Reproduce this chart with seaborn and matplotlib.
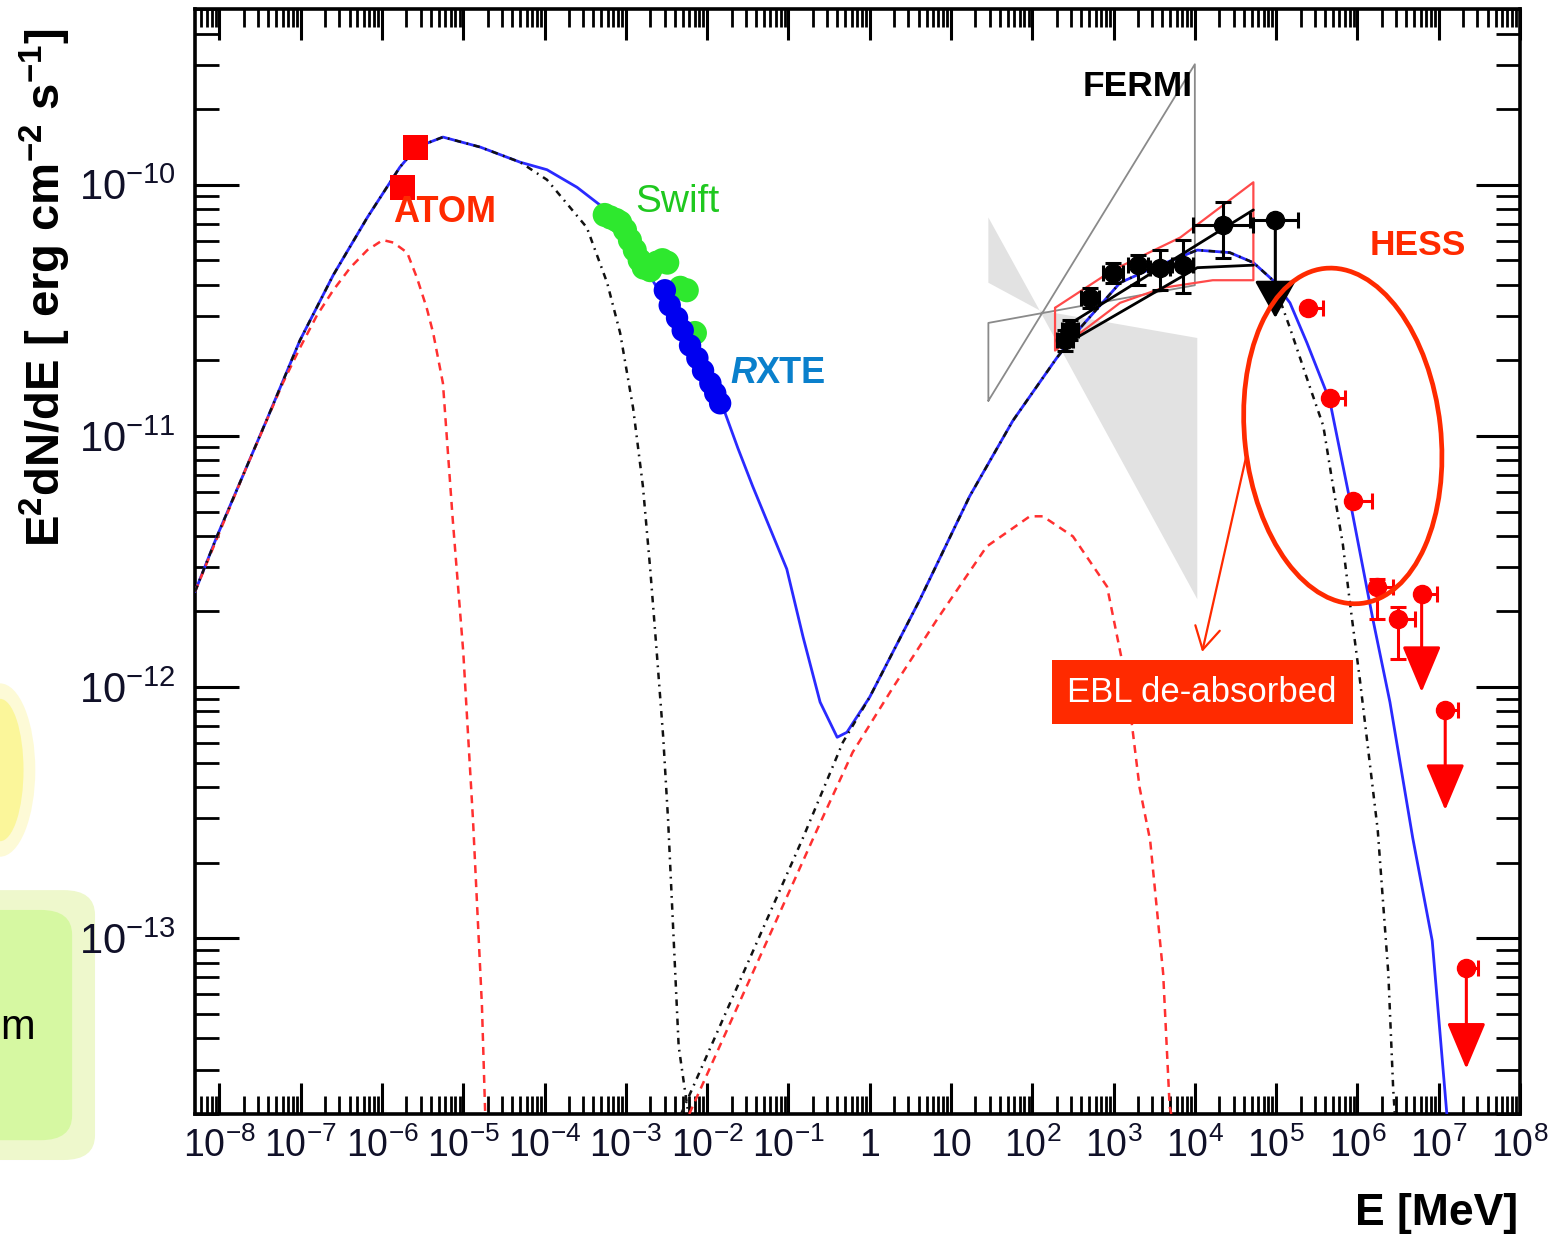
import numpy as np
import matplotlib
matplotlib.use("Agg")
import matplotlib.pyplot as plt
import seaborn as sns
from matplotlib.patches import Ellipse, FancyBboxPatch
from matplotlib.transforms import ScaledTranslation
from matplotlib.ticker import LogLocator, NullFormatter, FixedLocator, FixedFormatter

# all values are log10(E / MeV) and log10(E^2 dN/dE / erg cm^-2 s^-1)
x_lim_log = [-8.3, 8.0]
y_lim_log = [-13.7, -9.3]

# total model (blue)
total_logE = [-8.30, -8.03, -7.41, -7.01, -6.60, -6.18, -5.78, -5.57, -5.25, -4.79, -4.30, -3.97, -3.60,
              -3.28, -2.67, -2.21, -1.80, -1.62, -1.44, -1.02, -0.82, -0.61, -0.40, -0.28, 0.00, 0.62, 1.23,
              1.76, 2.30, 2.59, 3.08, 3.49, 4.03, 4.43, 4.72, 4.96, 5.17, 5.38, 5.66, 5.91,
              6.19, 6.40, 6.68, 6.92, 7.10]
total_logF = [-11.62, -11.40, -10.93, -10.62, -10.36, -10.13, -9.93, -9.85, -9.81, -9.85, -9.91, -9.94, -10.01,
              -10.09, -10.38, -10.64, -10.89, -11.05, -11.20, -11.53, -11.80, -12.06, -12.20, -12.18, -12.04, -11.65, -11.24,
              -10.94, -10.69, -10.57, -10.39, -10.33, -10.26, -10.27, -10.31, -10.38, -10.47, -10.63, -10.86, -11.26,
              -11.73, -12.06, -12.60, -13.01, -13.70]

# component 1 synchrotron / inverse Compton (black dash-dot)
bsync_logE = [-8.30, -8.03, -7.41, -7.01, -6.60, -6.18, -5.78, -5.57, -5.25, -4.79, -4.30, -3.97,
              -3.48, -3.23, -3.07, -2.91, -2.79, -2.70, -2.62, -2.54, -2.48, -2.35, -2.28, -2.23]
bsync_logF = [-11.62, -11.40, -10.93, -10.62, -10.36, -10.13, -9.93, -9.85, -9.81, -9.85, -9.91, -9.98,
              -10.17, -10.39, -10.59, -10.89, -11.20, -11.53, -11.86, -12.20, -12.53, -13.43, -13.59, -13.70]
bic_logE = [-2.32, -0.82, -0.33, 0.00, 0.62, 1.23, 1.76, 2.30, 2.59, 3.08, 3.49, 4.03, 4.43,
            4.72, 4.96, 5.17, 5.42, 5.58, 5.70, 5.82, 5.91, 6.03, 6.25, 6.38, 6.44, 6.46]
bic_logF = [-13.70, -12.60, -12.22, -12.04, -11.65, -11.24, -10.94, -10.69, -10.57, -10.39, -10.33, -10.26, -10.27,
            -10.31, -10.38, -10.57, -10.81, -10.96, -11.20, -11.43, -11.67, -11.97, -12.57, -13.14, -13.60, -13.70]

# component 2 synchrotron / inverse Compton (red dashed)
rsync_logE = [-8.30, -7.70, -7.22, -7.01, -6.80, -6.60, -6.39, -6.18, -5.99, -5.86, -5.69, -5.57,
              -5.45, -5.37, -5.25, -5.13, -5.00, -4.88, -4.77, -4.73]
rsync_logF = [-11.62, -11.15, -10.79, -10.65, -10.52, -10.42, -10.33, -10.26, -10.22, -10.23, -10.27, -10.37,
              -10.49, -10.59, -10.79, -11.33, -11.86, -12.53, -13.27, -13.70]
ric_logE = [-2.22, -0.65, -0.21, 0.29, 0.83, 1.44, 1.97, 2.13, 2.50, 2.92, 3.17, 3.32, 3.45, 3.61, 3.69, 3.71]
ric_logF = [-13.70, -12.57, -12.26, -12.00, -11.73, -11.44, -11.32, -11.32, -11.40, -11.60, -12.00, -12.40,
            -12.61, -13.14, -13.67, -13.70]

# data
atom_logE = [-5.59, -5.75]
atom_logF = [-9.85, -10.01]

swift_logE = [-3.26, -3.19, -3.12, -3.07, -3.01, -2.95, -2.89, -2.83, -2.78, -2.70, -2.62, -2.55,
              -2.49, -2.33, -2.25, -2.15]
swift_logF = [-10.12, -10.13, -10.14, -10.15, -10.18, -10.22, -10.26, -10.30, -10.33, -10.34, -10.31, -10.30,
              -10.31, -10.41, -10.42, -10.59]

rxte_logE = [-2.52, -2.46, -2.37, -2.30, -2.21, -2.12, -2.05, -1.96, -1.90, -1.84]
rxte_logF = [-10.42, -10.48, -10.53, -10.58, -10.64, -10.69, -10.74, -10.79, -10.83, -10.87]

fermi_logE = [2.40, 2.46, 2.71, 2.99, 3.30, 3.57, 3.85, 4.35]
fermi_logF = [-10.62, -10.58, -10.45, -10.35, -10.32, -10.33, -10.32, -10.16]
fermi_logE_lo = [2.30, 2.36, 2.60, 2.87, 3.18, 3.45, 3.72, 3.98]
fermi_logE_hi = [2.50, 2.56, 2.82, 3.11, 3.42, 3.69, 3.98, 4.72]
fermi_logF_lo = [-10.66, -10.62, -10.49, -10.39, -10.40, -10.42, -10.43, -10.29]
fermi_logF_hi = [-10.58, -10.54, -10.41, -10.31, -10.28, -10.26, -10.22, -10.07]
fermi_last = [4.99, -10.14]          # logE, logF
fermi_last_logE_range = [4.68, 5.27]
fermi_last_tip_logF = -10.53

# FERMI butterflies
lat_red_logE = [2.28, 2.99, 3.82, 4.72, 4.72, 4.22, 3.61, 3.08, 2.59, 2.28, 2.28]
lat_red_logF = [-10.49, -10.34, -10.21, -9.99, -10.38, -10.38, -10.41, -10.47, -10.59, -10.66, -10.49]
lat_black_top_logE = [2.38, 4.72]
lat_black_top_logF = [-10.57, -10.10]
lat_black_bot_logE = [2.38, 4.03, 4.72]
lat_black_bot_logF = [-10.64, -10.33, -10.32]
gray_fill_logE = [1.46, 2.09, 4.03, 4.03, 2.09, 1.46]
gray_fill_logF = [-10.13, -10.50, -10.61, -11.65, -10.50, -10.39]
gray_line_logE = [1.46, 4.00, 4.00, 1.46, 1.46]
gray_line_logF = [-10.86, -9.52, -10.40, -10.55, -10.86]

# HESS
hess_logE = [5.39, 5.66, 5.95, 6.24, 6.50]
hess_logF = [-10.49, -10.85, -11.26, -11.60, -11.73]
hess_logE_hi = [5.58, 5.85, 6.18, 6.44, 6.71]
hess_logF_lo = [-10.49, -10.85, -11.26, -11.73, -11.89]
hess_logF_hi = [-10.49, -10.85, -11.26, -11.57, -11.68]
hess_ul_logE = [6.79, 7.08, 7.34]
hess_ul_logF = [-11.63, -12.09, -13.12]
hess_ul_logE_hi = [6.98, 7.24, 7.48]
hess_ul_tip_logF = [-12.02, -12.49, -13.52]

x_tick_exps = list(range(-8, 9))
x_tick_labels = [r'$10^{%d}$' % e if e not in (0, 1) else ('1' if e == 0 else '10') for e in x_tick_exps]
y_tick_exps = [-13, -12, -11, -10]
y_tick_labels = [r'$10^{%d}$' % e for e in y_tick_exps]

RED = '#ff2a00'


def p10(v):
    return 10.0 ** np.asarray(v, dtype=float)


sns.set_theme(style="white")
plt.rcParams['font.family'] = ['Liberation Sans', 'DejaVu Sans']
plt.rcParams['mathtext.fontset'] = 'custom'
plt.rcParams['mathtext.rm'] = 'Liberation Sans'
plt.rcParams['mathtext.bf'] = 'Liberation Sans:bold'
plt.rcParams['mathtext.it'] = 'Liberation Sans:italic'
plt.rcParams['text.color'] = 'black'

fig = plt.figure(figsize=(15.68, 12.38), dpi=100)
fig.patch.set_facecolor('white')

# bits of the slide showing at the left edge, behind everything
deco = [Ellipse((0.0, 0.378), 0.045, 0.14, fc='#fdfad6'),
        Ellipse((0.0, 0.378), 0.03, 0.115, fc='#fbf69a'),
        FancyBboxPatch((-0.03, 0.063), 0.0906, 0.218, boxstyle='round,pad=0,rounding_size=0.02', fc='#eef8cc'),
        FancyBboxPatch((-0.03, 0.079), 0.076, 0.186, boxstyle='round,pad=0,rounding_size=0.02', fc='#d6f8a2')]
for p in deco:
    p.set_transform(fig.transFigure)
    p.set_edgecolor('none')
    p.set_zorder(-5)
    fig.add_artist(p)
fig.text(0.0115, 0.1696, 'm', fontsize=30, ha='center', va='center', zorder=-4)

ax = fig.add_axes([195 / 1568, 124 / 1238, 1325 / 1568, 1105 / 1238])
ax.set_facecolor('white')
ax.set_xscale('log')
ax.set_yscale('log')

# FERMI butterflies
ax.fill(p10(gray_fill_logE), p10(gray_fill_logF), color='#e2e2e2', lw=0, zorder=1)
ax.plot(p10(gray_line_logE), p10(gray_line_logF), color='#8a8a8a', lw=1.3, zorder=2)

# model curves
sns.lineplot(x=p10(total_logE), y=p10(total_logF), color='#2a2aff', lw=2.0, sort=False, estimator=None, ax=ax, zorder=3)
for xs, ys in [(rsync_logE, rsync_logF), (ric_logE, ric_logF)]:
    sns.lineplot(x=p10(xs), y=p10(ys), color='#ff3030', lw=1.8, linestyle=(0, (3.2, 2.4)),
                 sort=False, estimator=None, ax=ax, zorder=4)
for xs, ys in [(bsync_logE, bsync_logF), (bic_logE, bic_logF)]:
    sns.lineplot(x=p10(xs), y=p10(ys), color='#111111', lw=1.8, linestyle=(0, (2.6, 2.2, 0.7, 2.2)),
                 sort=False, estimator=None, ax=ax, zorder=4)

ax.plot(p10(lat_red_logE), p10(lat_red_logF), color='#ff4a4a', lw=1.6, zorder=5)
ax.plot(p10(lat_black_top_logE), p10(lat_black_top_logF), color='black', lw=2.0, zorder=5)
ax.plot(p10(lat_black_bot_logE), p10(lat_black_bot_logF), color='black', lw=2.0, zorder=5)

# ATOM, Swift, RXTE
sns.scatterplot(x=p10(atom_logE), y=p10(atom_logF), marker='s', s=330, color='#ff0000', edgecolor='none', ax=ax, zorder=6)
sns.scatterplot(x=p10(swift_logE), y=p10(swift_logF), marker='o', s=300, color='#2ee82e', edgecolor='none', ax=ax, zorder=6)
sns.scatterplot(x=p10(rxte_logE), y=p10(rxte_logF), marker='o', s=260, color='#0000f0', edgecolor='none', ax=ax, zorder=7)

# FERMI points
fx, fy = p10(fermi_logE), p10(fermi_logF)
ax.errorbar(fx, fy,
            xerr=[fx - p10(fermi_logE_lo), p10(fermi_logE_hi) - fx],
            yerr=[fy - p10(fermi_logF_lo), p10(fermi_logF_hi) - fy],
            fmt='o', color='black', ms=13, elinewidth=2.2, capsize=6, capthick=2.2, zorder=8)
lx, ly = 10 ** fermi_last[0], 10 ** fermi_last[1]
ax.errorbar([lx], [ly], xerr=[[lx - 10 ** fermi_last_logE_range[0]], [10 ** fermi_last_logE_range[1] - lx]],
            fmt='o', color='black', ms=13, elinewidth=2.2, capsize=6, capthick=2.2, zorder=8)
ax.annotate('', xy=(lx, 10 ** fermi_last_tip_logF), xytext=(lx, ly),
            arrowprops=dict(arrowstyle='-|>,head_length=0.9,head_width=0.5', mutation_scale=26,
                            color='black', lw=2.2, shrinkA=0, shrinkB=0), zorder=8)

# HESS points
hx, hy = p10(hess_logE), p10(hess_logF)
ax.errorbar(hx, hy,
            xerr=[np.zeros(len(hx)), p10(hess_logE_hi) - hx],
            yerr=[hy - p10(hess_logF_lo), p10(hess_logF_hi) - hy],
            fmt='o', color='#ff0000', ms=13, elinewidth=2.2, capsize=6, capthick=2.2, zorder=8)
ux, uy = p10(hess_ul_logE), p10(hess_ul_logF)
ax.errorbar(ux, uy, xerr=[np.zeros(len(ux)), p10(hess_ul_logE_hi) - ux],
            fmt='o', color='#ff0000', ms=13, elinewidth=2.2, capsize=6, capthick=2.2, zorder=8)
for x0, y0, yt in zip(ux, uy, p10(hess_ul_tip_logF)):
    ax.annotate('', xy=(x0, yt), xytext=(x0, y0),
                arrowprops=dict(arrowstyle='-|>,head_length=1.0,head_width=0.42', mutation_scale=29,
                                color='#ff0000', lw=2.2, shrinkA=0, shrinkB=0), zorder=8)

# labels
ax.text(10 ** -5.86, 10 ** -10.11, 'ATOM', color=RED, fontsize=26, fontweight='bold', ha='left', va='center', zorder=9)
ax.text(10 ** -2.89, 10 ** -10.07, 'Swift', color='#1fc81f', fontsize=28, ha='left', va='center', zorder=9)
r_txt = ax.text(10 ** -1.72, 10 ** -10.75, 'R', color='#0a80cc', fontsize=26, fontweight='bold',
                fontstyle='italic', ha='left', va='center', zorder=9)
ax.annotate('XTE', xy=(1, 0.5), xycoords=r_txt, color='#0a80cc', fontsize=26, fontweight='bold',
            ha='left', va='center', zorder=9)
ax.text(10 ** 2.62, 10 ** -9.61, 'FERMI', color='black', fontsize=25.5, fontweight='bold', ha='left', va='center', zorder=9)
ax.text(10 ** 6.15, 10 ** -10.24, 'HESS', color=RED, fontsize=25.5, fontweight='bold', ha='left', va='center', zorder=9)

# EBL annotation
ell_trans = fig.dpi_scale_trans + ScaledTranslation(10 ** 5.82, 10 ** -11.00, ax.transData)
ax.add_artist(Ellipse((0, 0), width=1.96, height=3.37, angle=6.3, fill=False, ec=RED, lw=3.4,
                      transform=ell_trans, zorder=9))
ax.annotate('', xy=(10 ** 4.09, 10 ** -11.86), xytext=(10 ** 4.64, 10 ** -11.07),
            arrowprops=dict(arrowstyle='->,head_length=0.8,head_width=0.45', mutation_scale=20,
                            color=RED, lw=1.6, shrinkA=0, shrinkB=0), zorder=9)
ax.text(10 ** 4.09, 10 ** -12.02, 'EBL de-absorbed', color='white', fontsize=25, ha='center', va='center',
        bbox=dict(boxstyle='square,pad=0.45', fc=RED, ec='none'), zorder=10)

# axes, ticks
ax.set_xlim(10 ** x_lim_log[0], 10 ** x_lim_log[1])
ax.set_ylim(10 ** y_lim_log[0], 10 ** y_lim_log[1])
ax.xaxis.set_major_locator(FixedLocator(p10(x_tick_exps)))
ax.xaxis.set_major_formatter(FixedFormatter(x_tick_labels))
ax.xaxis.set_minor_locator(LogLocator(base=10, subs=np.arange(2, 10), numticks=200))
ax.xaxis.set_minor_formatter(NullFormatter())
ax.yaxis.set_major_locator(FixedLocator(p10(y_tick_exps)))
ax.yaxis.set_major_formatter(FixedFormatter(y_tick_labels))
ax.yaxis.set_minor_locator(LogLocator(base=10, subs=np.arange(2, 10), numticks=200))
ax.yaxis.set_minor_formatter(NullFormatter())

ax.tick_params(axis='x', which='major', direction='in', length=22, width=2.2, top=True, bottom=True,
               pad=10, labelsize=27, labelcolor='#101028', color='black')
ax.tick_params(axis='x', which='minor', direction='in', length=13, width=2.0, top=True, bottom=True, color='black')
ax.tick_params(axis='y', which='major', direction='in', length=32, width=2.2, left=True, right=True,
               pad=14, labelsize=30, labelcolor='#101028', color='black')
ax.tick_params(axis='y', which='minor', direction='in', length=17, width=2.0, left=True, right=True, color='black')
for sp in ax.spines.values():
    sp.set_linewidth(2.6)
    sp.set_color('black')
ax.set_xlabel('')
ax.set_ylabel('')

fig.text(45 / 1568, 1 - 288 / 1238, r'$\mathbf{E^{2}dN/dE\ [\ erg\ cm^{-2}\ s^{-1}]}$',
         rotation=90, ha='center', va='center', fontsize=34, color='black')
fig.text(1518 / 1568, 1 - 1213 / 1238, 'E [MeV]', ha='right', va='center', fontsize=32,
         fontweight='bold', color='black')

fig.savefig('out.png', dpi=100)
